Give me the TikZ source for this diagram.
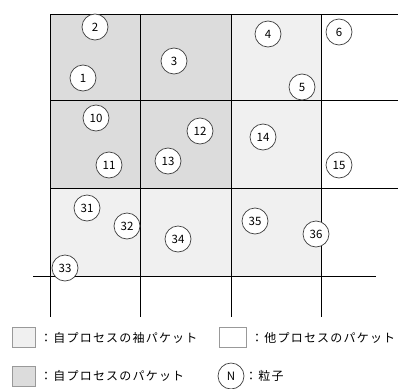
\documentclass[tikz,border=0pt]{standalone}
\usepackage{fontspec}
\setmainfont{Noto Sans CJK JP}
\newfontfamily\legfont[LetterSpace=10]{Noto Sans CJK JP}
\definecolor{own}{HTML}{DCDCDC}
\definecolor{halo}{HTML}{F0F0F0}
\begin{document}
\begin{tikzpicture}[x=1pt,y=-1pt,
  grid/.style={line width=1pt,black},
  particle/.style={circle,draw=black!75,fill=white,line width=0.7pt,minimum size=26pt,inner sep=0pt,font=\fontsize{11.5}{11.5}\selectfont},
  legbox/.style={draw=black!40,line width=0.6pt,minimum width=23pt,minimum height=20pt,inner sep=0pt},
  legtext/.style={anchor=west,inner sep=0pt,font=\legfont\fontsize{12}{12}\selectfont}]
\useasboundingbox (0,0) rectangle (398,388);
% fills
\fill[own] (50,14) rectangle (231,188);
\fill[halo] (231,14) rectangle (321,188);
\fill[halo] (50,188) rectangle (321,276);
% grid
\draw[grid] (50,14) -- (398,14);
\draw[grid] (50,100) -- (398,100);
\draw[grid] (50,188) -- (398,188);
\draw[grid] (33,276) -- (376,276);
\foreach \x in {50,140,231,321} \draw[grid] (\x,14) -- (\x,317);
% particles
\node[particle] (p1) at (83,78) {1};
\node[particle] (p2) at (95,27) {2};
\node[particle] (p3) at (174,61) {3};
\node[particle] (p4) at (268,34) {4};
\node[particle] (p5) at (302,87) {5};
\node[particle] (p6) at (339,32) {6};
\node[particle] (p10) at (96,118) {10};
\node[particle] (p11) at (109,165) {11};
\node[particle] (p12) at (200,131) {12};
\node[particle] (p13) at (168,161) {13};
\node[particle] (p14) at (263,137) {14};
\node[particle] (p15) at (339,165) {15};
\node[particle] (p31) at (87,208) {31};
\node[particle] (p32) at (127,226) {32};
\node[particle] (p33) at (65,268) {33};
\node[particle] (p34) at (178,239) {34};
\node[particle] (p35) at (255,221) {35};
\node[particle] (p36) at (316,234) {36};
% legend
\node[legbox,fill=halo] (lb1) at (23.5,337.5) {};
\node[legtext] (lt1) at (40,337.5) {：自プロセスの袖パケット};
\node[legbox,fill=white,minimum width=27pt] (lb2) at (233,337.5) {};
\node[legtext] (lt2) at (251,337.5) {：他プロセスのパケット};
\node[legbox,fill=own] (lb3) at (23.5,376) {};
\node[legtext] (lt3) at (40,376) {：自プロセスのパケット};
\node[particle] (lN) at (231,376) {N};
\node[legtext] (lt4) at (245,376) {：粒子};
\end{tikzpicture}
\end{document}
